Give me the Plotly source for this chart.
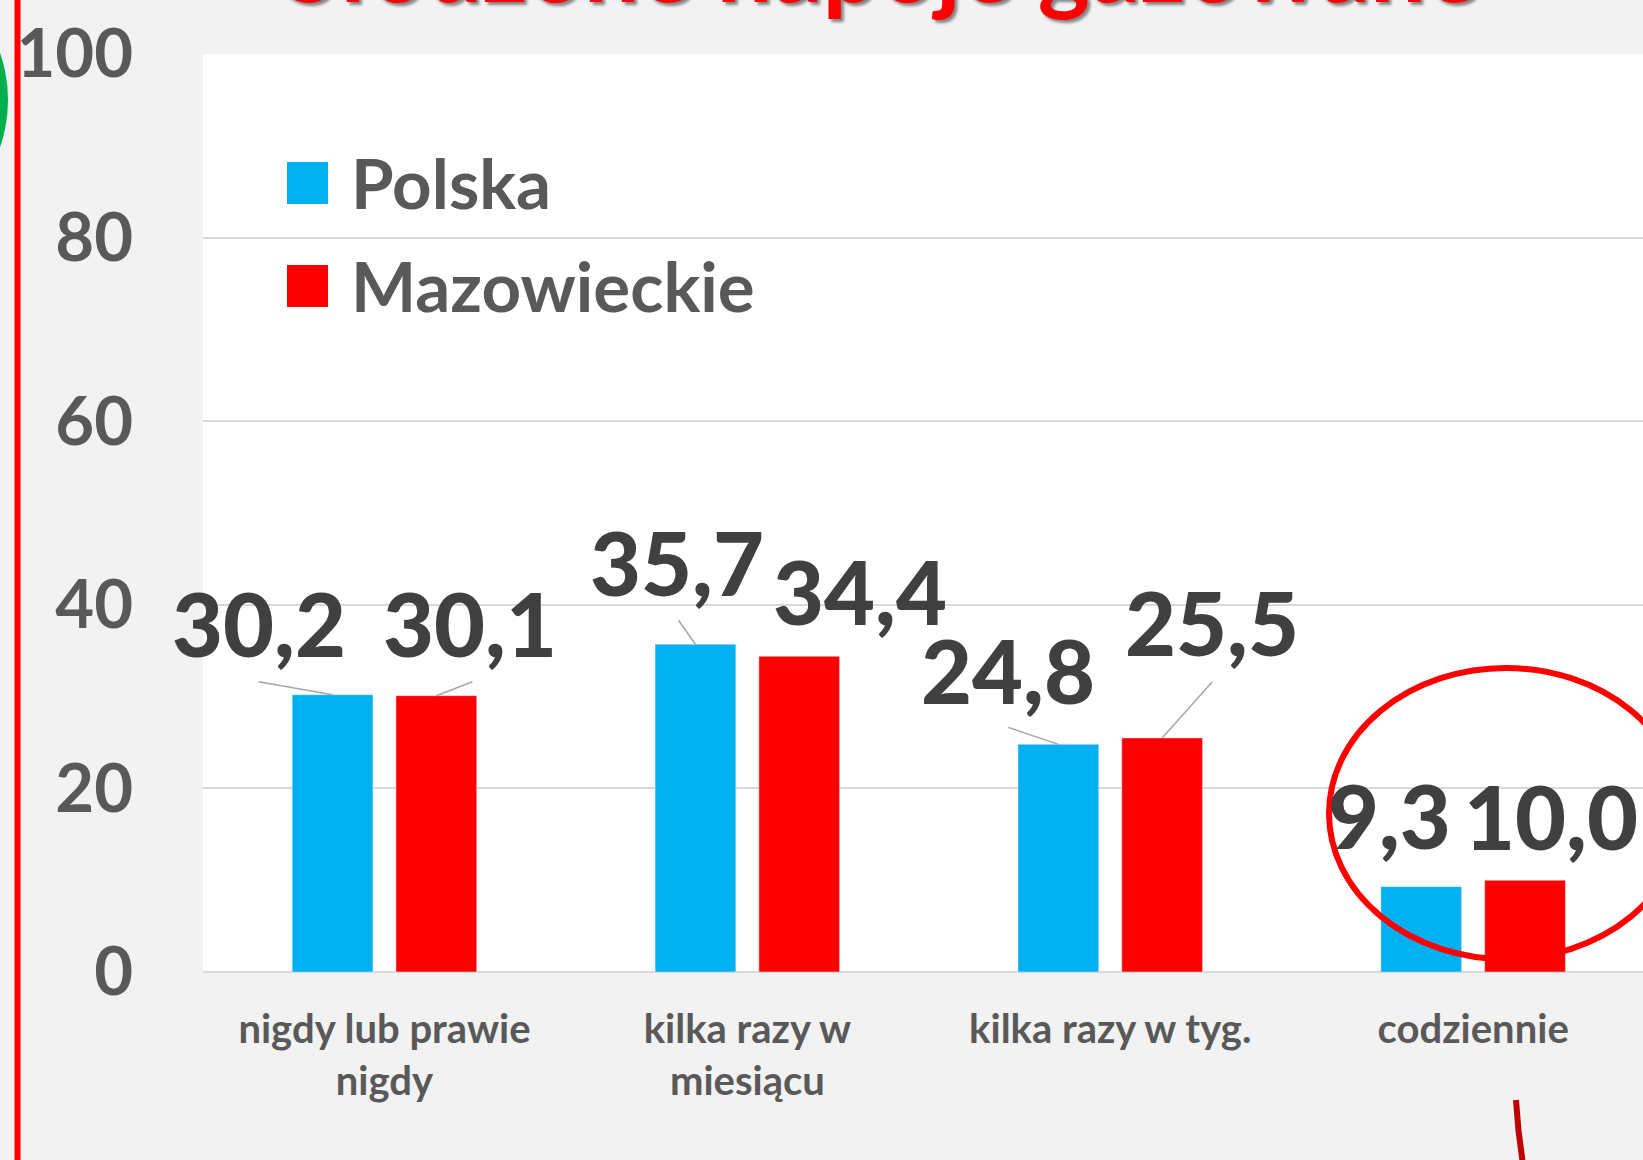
import plotly.graph_objects as go

# --- data -------------------------------------------------------------
categories = ["nigdy lub prawie nigdy", "kilka razy w miesiącu", "kilka razy w tyg.", "codziennie"]
tick_labels = ["nigdy lub prawie<br>nigdy", "kilka razy w<br>miesiącu", "kilka razy w tyg.", "codziennie"]
polska = [30.2, 35.7, 24.8, 9.3]
mazowieckie = [30.1, 34.4, 25.5, 10.0]
series_names = ["Polska", "Mazowieckie"]
y_ticks = [0, 20, 40, 60, 80, 100]
title_text = "Słodzone napoje gazowane"

BLUE = "#00b0f0"
RED = "#ff0000"
DARK = "#404040"
GREY = "#595959"
FONT = "Lato"

W, H = 1643, 1160
L, T, B = 203, 54, 188          # plot area in pixels
PW, PH = W - L, H - T - B

def px_x(px):                   # page pixel -> paper x
    return (px - L) / PW

def px_y(py):                   # page pixel -> paper y
    return (H - B - py) / PH

xs = list(range(len(categories)))
OFF = 0.143                     # half of a bar slot, in category units

fig = go.Figure()
fig.add_trace(go.Bar(x=xs, y=polska, name=series_names[0], marker_color=BLUE))
fig.add_trace(go.Bar(x=xs, y=mazowieckie, name=series_names[1], marker_color=RED))

# value labels, moved off the bars like in the slide (pixel shifts from the bar top)
label_shift = {0: [(-74, 72), (-18, 82), (-50, 74), (-32, 72)],
               1: [(34, 73), (61, 65), (50, 116), (26, 64)]}
leader = {0: [(-74, 13), (-17, 24), (-50, 17), None],
          1: [(36, 14), None, (50, 56), None]}

for s, vals in enumerate([polska, mazowieckie]):
    side = -OFF if s == 0 else OFF
    for i, v in enumerate(vals):
        dx, dy = label_shift[s][i]
        fig.add_annotation(x=xs[i] + side, y=v, text=f"{v:.1f}".replace(".", ","),
                           showarrow=False, xshift=dx, yshift=dy,
                           xanchor="center", yanchor="middle",
                           font=dict(family=FONT, size=88, color=DARK, weight=900))
        if leader[s][i] is not None:
            lx, ly = leader[s][i]
            fig.add_shape(type="line", xref="x", yref="y",
                          xsizemode="pixel", ysizemode="pixel",
                          xanchor=xs[i] + side, yanchor=v,
                          x0=0, y0=0, x1=lx, y1=ly,
                          line=dict(color="#a6a6a6", width=1.5))

# legend drawn by hand (big squares like in the slide)
for s, (name, col) in enumerate(zip(series_names, [BLUE, RED])):
    yc = 183 + s * 103
    fig.add_shape(type="rect", xref="paper", yref="paper",
                  x0=px_x(287), x1=px_x(328), y0=px_y(yc + 21), y1=px_y(yc - 21),
                  fillcolor=col, line_width=0)
    fig.add_annotation(xref="paper", yref="paper", x=px_x(349), y=px_y(yc),
                       text=name, showarrow=False, xanchor="left", yanchor="middle",
                       font=dict(family=FONT, size=69, color=GREY, weight="bold"))

# title, mostly cut off at the top of the picture
fig.add_annotation(xref="paper", yref="paper", x=px_x(881), y=px_y(-37),
                   text=title_text, showarrow=False, xanchor="center", yanchor="middle",
                   font=dict(family=FONT, size=99, color=RED, weight="bold",
                             shadow="3px 3px 3px rgba(0,0,0,0.45)"))

# slide decorations
fig.add_shape(type="circle", xref="paper", yref="paper",
              x0=px_x(-282), x1=px_x(8), y0=px_y(245), y1=px_y(-45),
              fillcolor="#00b050", line_width=0, layer="above")
fig.add_shape(type="line", xref="paper", yref="paper",
              x0=px_x(17.5), x1=px_x(17.5), y0=px_y(1200), y1=px_y(-40),
              line=dict(color=RED, width=6))
fig.add_shape(type="circle", xref="paper", yref="paper",
              x0=px_x(1329), x1=px_x(1683), y0=px_y(959), y1=px_y(668),
              line=dict(color=RED, width=6), layer="above")
fig.add_shape(type="path", xref="paper", yref="paper",
              path=f"M {px_x(1516)} {px_y(1100)} Q {px_x(1518)} {px_y(1135)} {px_x(1524)} {px_y(1170)}",
              line=dict(color="#c00000", width=6))

fig.update_layout(
    width=W, height=H,
    margin=dict(l=L, r=0, t=T, b=B),
    paper_bgcolor="#f2f2f2", plot_bgcolor="white",
    barmode="group", bargap=0.428, bargroupgap=0.222,
    showlegend=False,
    xaxis=dict(range=[-0.5, 3.468], tickvals=xs, ticktext=tick_labels,
               showgrid=False, zeroline=False, ticks="", ticklabelstandoff=30,
               tickfont=dict(family=FONT, size=40, color=GREY, weight="bold")),
    yaxis=dict(range=[0, 100], tickvals=y_ticks, showgrid=True, gridcolor="#d9d9d9",
               gridwidth=1.5, zeroline=True, zerolinecolor="#d9d9d9", zerolinewidth=1.5,
               ticks="", ticklabelstandoff=69,
               tickfont=dict(family=FONT, size=67, color=GREY, weight="bold")),
)

# drop the page's default body margin so the figure sits at the corner
fig.write_html("out.html", config={"displayModeBar": False},
               post_script="document.body.style.margin='0';")
